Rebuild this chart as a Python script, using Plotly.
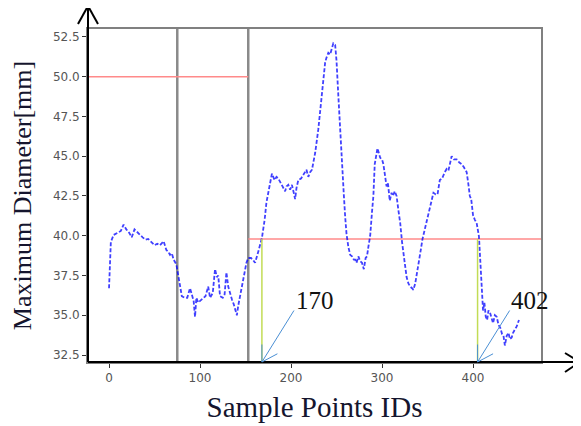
import plotly.graph_objects as go

# sample point id and maximum diameter [mm]
sample_ids = [0, 1, 2, 5, 10, 13, 16, 19, 22, 25, 28, 31, 34, 37, 40, 43, 46, 50, 53, 56,
              60, 63, 65, 67, 69, 71, 74, 76, 78, 80, 83, 86, 89, 91, 93, 94.5, 96, 98, 100, 103,
              106, 109, 111, 114, 116.5, 118.5, 120, 122, 125, 127, 129, 131, 133, 135, 137, 139, 140.5, 142, 144, 147.5,
              151, 153, 156, 158, 160.5, 164, 168, 171, 173, 176, 179, 182, 184, 186, 188, 190, 192, 193.5, 195, 197,
              199, 201, 203, 204.5, 206, 208, 211, 213.5, 216, 217, 219, 221, 223, 226.5, 230, 232, 234, 236, 237.5, 239,
              241, 243, 245, 246.5, 248.5, 250, 252, 254, 256, 258, 259.5, 261, 263, 265, 267, 269, 270.5, 272, 274, 276,
              278, 280, 282, 283.5, 285, 287, 289, 290.5, 292, 293.5, 295, 296.5, 298, 300, 301.5, 303, 305, 306.5, 308.5, 310.5,
              312, 314, 316, 318, 320, 322, 323.5, 325.5, 327, 329, 331, 333, 334.5, 336.5, 338, 340, 342, 344.5, 347, 350,
              352.5, 354.5, 356.5, 359, 361, 363.5, 366, 369, 371, 373, 375, 376.5, 379, 382, 385, 387.5, 390, 393, 395, 396.5,
              398, 400, 402, 404, 406.5, 408, 409.5, 411, 412.5, 414, 415.5, 417, 419, 420.5, 422, 424, 426, 428, 430, 432,
              433.5, 435, 437, 439, 440.5, 442.5, 444, 446, 448, 450.5]
max_diameter = [36.7, 38.2, 39.6, 40.05, 40.2, 40.3, 40.7, 40.4, 40.2, 39.9, 40.4, 40.2, 40.06, 39.9, 39.75, 39.8, 39.6, 39.4, 39.5, 39.4,
                39.65, 39.1, 39.0, 38.8, 38.9, 38.5, 38.2, 37.6, 37.0, 36.2, 36.1, 36.1, 36.7, 36.2, 35.9, 34.9, 36.1, 35.8, 35.9, 36.0,
                36.2, 36.8, 36.1, 36.4, 37.9, 37.4, 37.5, 36.2, 36.1, 36.3, 37.7, 36.8, 36.3, 36.0, 35.7, 35.3, 35.0, 35.6, 36.2, 37.0,
                38.3, 38.6, 38.6, 38.5, 38.3, 39.0, 39.85, 41.0, 42.1, 43.0, 43.9, 43.5, 43.7, 43.6, 43.4, 43.2, 43.0, 42.8, 43.1, 43.2,
                42.9, 43.2, 42.7, 42.3, 43.0, 43.5, 43.6, 43.8, 44.0, 44.15, 43.7, 44.0, 44.15, 45.2, 46.7, 47.8, 48.8, 50.2, 50.9, 51.2,
                51.5, 51.4, 51.9, 52.1, 52.0, 51.0, 48.8, 46.5, 44.6, 42.6, 41.2, 40.1, 39.3, 38.8, 38.7, 38.5, 38.5, 38.3, 38.7, 38.4,
                38.3, 37.9, 38.6, 38.7, 39.3, 40.0, 41.5, 42.5, 44.5, 45.1, 45.5, 45.2, 44.9, 44.8, 44.5, 43.9, 43.1, 43.3, 42.2, 42.7,
                42.5, 42.8, 42.5, 41.6, 40.8, 39.6, 38.9, 38.0, 37.4, 37.0, 36.8, 36.7, 36.6, 37.0, 37.6, 38.3, 38.9, 39.8, 40.4, 41.2,
                41.8, 42.4, 42.7, 42.6, 42.6, 43.5, 43.6, 44.0, 44.2, 44.1, 44.6, 45.0, 44.8, 44.8, 44.6, 44.5, 44.3, 44.0, 43.2, 42.5,
                42.3, 41.3, 41.0, 40.8, 39.96, 38.5, 37.0, 35.3, 35.8, 34.9, 34.7, 35.3, 35.1, 34.8, 34.5, 35.0, 34.9, 34.4, 34.2, 33.8,
                33.7, 33.1, 33.7, 33.9, 33.5, 33.6, 33.9, 34.1, 34.3, 34.7]

segment_bounds = [75, 153]        # grey vertical separators
thresholds = [50.0, 39.8]         # red limit before / after the second separator
cut_ids = [168, 405]              # where the curve drops through the limit
cut_labels = ['170', '402']

x_range = [-23.1, 474.7]
y_range = [32.06, 53.0]

fig = go.Figure()
fig.add_trace(go.Scatter(x=sample_ids, y=max_diameter, mode='lines',
                         line=dict(color='rgba(0,0,255,0.75)', width=1.8, dash='4px,2px'),
                         showlegend=False))

for b in segment_bounds:
    fig.add_shape(type='line', xref='x', yref='paper', x0=b, x1=b, y0=0, y1=1,
                  line=dict(color='#8a8a8a', width=2.5), layer='below')

fig.add_shape(type='line', xref='x', yref='y', x0=x_range[0], x1=segment_bounds[1],
              y0=thresholds[0], y1=thresholds[0], line=dict(color='#ff8a8a', width=1.5), layer='below')
fig.add_shape(type='line', xref='x', yref='y', x0=segment_bounds[1], x1=x_range[1],
              y0=thresholds[1], y1=thresholds[1], line=dict(color='#ff8a8a', width=1.5), layer='below')

for c, lab in zip(cut_ids, cut_labels):
    fig.add_shape(type='line', xref='x', yref='y', x0=c, x1=c, y0=y_range[0], y1=thresholds[1],
                  line=dict(color='#c2dc55', width=1.5))
    # shaft and open head of the pointer
    for ax, ay in [(33, -53), (0, -19), (17, -9)]:
        fig.add_annotation(x=c, y=y_range[0], xref='x', yref='y', text='', showarrow=True,
                           ax=ax, ay=ay, arrowhead=0, arrowwidth=1, arrowcolor='#4a8fd4')
    fig.add_annotation(x=c + 35, y=35.9, xref='x', yref='y', text=lab, showarrow=False,
                       xanchor='left', yanchor='middle',
                       font=dict(family='Liberation Serif', size=25, color='#111'))

# black hand-drawn style axes with arrow heads (paper coords, plot area 453x333 px)
W, H = 453.0, 333.0
arrow = dict(color='black', width=2)
fig.add_shape(type='line', xref='paper', yref='paper', x0=0, y0=0, x1=0, y1=356 / H, line=arrow)
fig.add_shape(type='line', xref='paper', yref='paper', x0=-10 / W, y0=338 / H, x1=0, y1=356 / H, line=arrow)
fig.add_shape(type='line', xref='paper', yref='paper', x0=10 / W, y0=338 / H, x1=0, y1=356 / H, line=arrow)
fig.add_shape(type='line', xref='paper', yref='paper', x0=0, y0=0, x1=492 / W, y1=0, line=arrow)
fig.add_shape(type='line', xref='paper', yref='paper', x0=477 / W, y0=9 / H, x1=492 / W, y1=0, line=arrow)
fig.add_shape(type='line', xref='paper', yref='paper', x0=477 / W, y0=-10 / H, x1=492 / W, y1=0, line=arrow)

tickfont = dict(family='DejaVu Sans', size=12, color='#555')
fig.update_xaxes(range=x_range, tickvals=[0, 100, 200, 300, 400], showgrid=False, zeroline=False,
                 showline=True, linecolor='#808080', linewidth=2, mirror=True, automargin=False,
                 ticks='outside', ticklen=4, tickcolor='#333', tickfont=tickfont,
                 title=dict(text='Sample Points IDs', standoff=12,
                            font=dict(family='Liberation Serif', size=29, color='#15152e')))
fig.update_yaxes(range=y_range, tickvals=[32.5, 35, 37.5, 40, 42.5, 45, 47.5, 50, 52.5],
                 tickformat='.1f', showgrid=False, zeroline=False,
                 showline=True, linecolor='#808080', linewidth=2, mirror=True, automargin=False,
                 ticks='outside', ticklen=4, tickcolor='#333', tickfont=tickfont,
                 title=dict(text='Maximum Diameter[mm]', standoff=15,
                            font=dict(family='Liberation Serif', size=26, color='#15152e')))
# the page body adds an 8px offset, so the figure is 8px smaller and margins shifted
fig.update_layout(width=573, height=418, margin=dict(l=80, r=40, t=21, b=64),
                  plot_bgcolor='white', paper_bgcolor='white')
fig.write_html('out.html')
